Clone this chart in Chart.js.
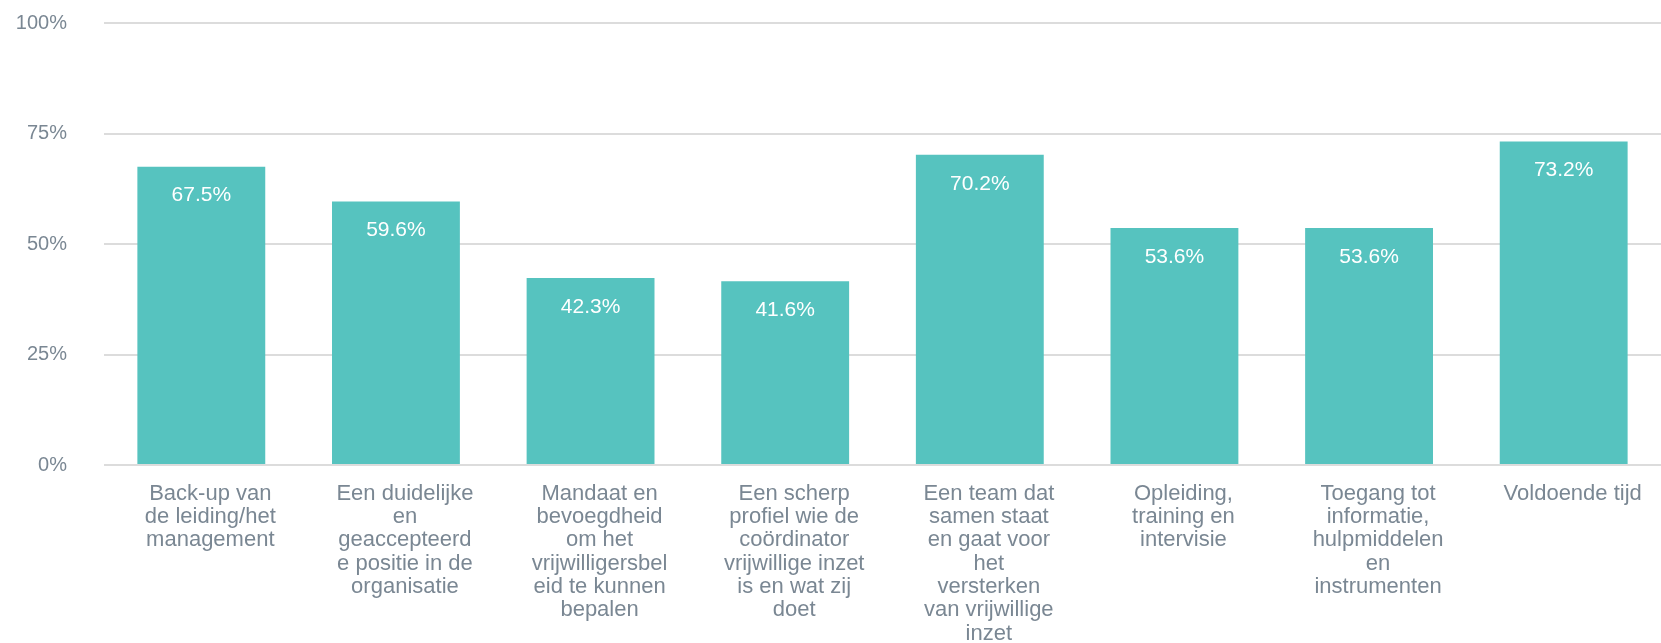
<!DOCTYPE html>
<html>
<head>
<meta charset="utf-8">
<script src="https://cdn.jsdelivr.net/npm/chart.js@4"></script>
<style>
  html,body{margin:0;padding:0;background:#fff;}
  #wrap{width:1661px;height:643px;}
</style>
</head>
<body>
<div id="wrap"><canvas id="chart" width="1661" height="643"></canvas></div>
<script>
const categories = [
  ["Back-up van","de leiding/het","management"],
  ["Een duidelijke","en","geaccepteerd","e positie in de","organisatie"],
  ["Mandaat en","bevoegdheid","om het","vrijwilligersbel","eid te kunnen","bepalen"],
  ["Een scherp","profiel wie de","coördinator","vrijwillige inzet","is en wat zij","doet"],
  ["Een team dat","samen staat","en gaat voor","het","versterken","van vrijwillige","inzet"],
  ["Opleiding,","training en","intervisie"],
  ["Toegang tot","informatie,","hulpmiddelen","en","instrumenten"],
  ["Voldoende tijd"]
];
const values = [67.5, 59.6, 42.3, 41.6, 70.2, 53.6, 53.6, 73.2];
const yTicks = [0, 25, 50, 75, 100];

const FONT = '"Liberation Sans", Arial, Helvetica, sans-serif';
const textColor = "#7a8793";

// white value label inside the top of each bar
const valueLabels = {
  id: "valueLabels",
  afterDatasetsDraw(chart){
    const ctx = chart.ctx;
    const meta = chart.getDatasetMeta(0);
    ctx.save();
    ctx.font = "21px " + FONT;
    ctx.fillStyle = "#ffffff";
    ctx.textAlign = "center";
    ctx.textBaseline = "middle";
    meta.data.forEach((bar,i)=>{
      ctx.fillText(values[i].toFixed(1) + "%", bar.x, bar.y + 29);
    });
    ctx.restore();
  }
};

new Chart(document.getElementById("chart"),{
  type:"bar",
  data:{
    labels:categories,
    datasets:[{data:values,backgroundColor:"#56c3bf",borderWidth:0,barPercentage:0.657,categoryPercentage:1}]
  },
  options:{
    responsive:false,
    animation:false,
    layout:{padding:{top:23,left:0,right:0,bottom:0}},
    plugins:{legend:{display:false},tooltip:{enabled:false}},
    scales:{
      x:{
        grid:{display:false,drawTicks:false},
        border:{display:false},
        afterFit(scale){ scale.height = 178; },
        ticks:{
          autoSkip:false,maxRotation:0,minRotation:0,padding:17,labelOffset:9,
          color:textColor,font:{family:FONT,size:22,lineHeight:1.06}
        }
      },
      y:{
        min:0,max:100,
        afterBuildTicks(scale){ scale.ticks = yTicks.map(v=>({value:v})); },
        afterFit(scale){
          scale.width = 104;
          scale.paddingTop = 0;
          scale.paddingBottom = 0;
        },
        grid:{color:"#dcdcdc",lineWidth:2,drawTicks:false},
        border:{display:false},
        ticks:{
          padding:37,color:textColor,font:{family:FONT,size:20},
          callback:v=>v + "%"
        }
      }
    }
  },
  plugins:[valueLabels]
});
</script>
</body>
</html>
